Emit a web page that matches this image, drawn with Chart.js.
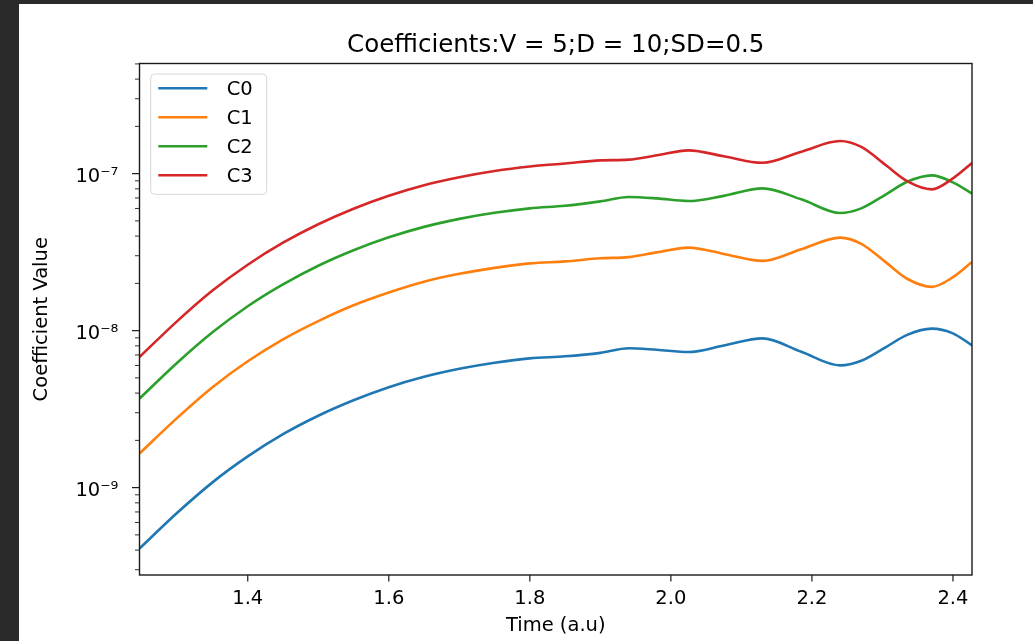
<!DOCTYPE html>
<html>
<head>
<meta charset="utf-8">
<title>Coefficients</title>
<script src="https://cdn.jsdelivr.net/npm/chart.js@4.4.1/dist/chart.umd.min.js"></script>
<style>
html, body { margin: 0; padding: 0; background: #2a2a2a; width: 1033px; height: 641px; overflow: hidden; }
#fig { position: absolute; left: 19px; top: 4px; width: 1014px; height: 637px; background: #fff; }
</style>
</head>
<body>
<div id="fig"><canvas id="myChart"></canvas></div>
<script>
// time samples (a.u)
var time = [1.2465, 1.30, 1.35, 1.40, 1.45, 1.50, 1.55, 1.60, 1.65, 1.70, 1.75, 1.80, 1.85, 1.90,
            1.94, 1.98, 2.025, 2.075, 2.13, 2.185, 2.24, 2.27, 2.305, 2.335, 2.37, 2.40, 2.427];

var c0 = [4.09e-10, 6.91e-10, 1.08e-9, 1.58e-9, 2.19e-9, 2.87e-9, 3.60e-9, 4.36e-9, 5.08e-9, 5.71e-9,
          6.24e-9, 6.66e-9, 6.86e-9, 7.22e-9, 7.72e-9, 7.55e-9, 7.31e-9, 8.04e-9, 8.93e-9, 7.33e-9,
          6.01e-9, 6.43e-9, 7.86e-9, 9.40e-9, 1.03e-8, 9.61e-9, 8.06e-9];
var c1 = [1.65e-9, 2.78e-9, 4.36e-9, 6.38e-9, 8.80e-9, 1.15e-8, 1.45e-8, 1.75e-8, 2.05e-8, 2.30e-8,
          2.51e-8, 2.68e-8, 2.76e-8, 2.89e-8, 2.94e-8, 3.15e-8, 3.38e-8, 3.08e-8, 2.78e-8, 3.30e-8,
          3.91e-8, 3.57e-8, 2.72e-8, 2.14e-8, 1.90e-8, 2.19e-8, 2.74e-8];
var c2 = [3.69e-9, 6.24e-9, 9.75e-9, 1.43e-8, 1.97e-8, 2.59e-8, 3.25e-8, 3.93e-8, 4.58e-8, 5.15e-8,
          5.63e-8, 6.01e-8, 6.24e-8, 6.66e-8, 7.10e-8, 6.96e-8, 6.69e-8, 7.22e-8, 8.06e-8, 6.86e-8,
          5.61e-8, 6.01e-8, 7.38e-8, 8.87e-8, 9.75e-8, 8.80e-8, 7.46e-8];
var c3 = [6.79e-9, 1.15e-8, 1.80e-8, 2.63e-8, 3.63e-8, 4.76e-8, 5.98e-8, 7.23e-8, 8.44e-8, 9.49e-8,
          1.04e-7, 1.11e-7, 1.16e-7, 1.215e-7, 1.228e-7, 1.308e-7, 1.407e-7, 1.29e-7, 1.172e-7, 1.38e-7,
          1.613e-7, 1.48e-7, 1.13e-7, 8.96e-8, 7.94e-8, 9.33e-8, 1.168e-7];

var series_names = ['C0', 'C1', 'C2', 'C3'];
var series_values = [c0, c1, c2, c3];
var series_colors = ['#1f77b4', '#ff7f0e', '#2ca02c', '#d62728'];

var x_ticks = [1.4, 1.6, 1.8, 2.0, 2.2, 2.4];
var x_min = 1.2465, x_max = 2.427;
var y_min = 2.776e-10, y_max = 5.03e-7;
var y_decades = [-10, -9, -8, -7];

var sup = {'-': '\u207B', '0': '\u2070', '1': '\u00B9', '2': '\u00B2', '3': '\u00B3', '4': '\u2074',
           '5': '\u2075', '6': '\u2076', '7': '\u2077', '8': '\u2078', '9': '\u2079'};

function power_label(p) {
	var s = String(p).split('').map(function(ch){ return sup[ch]; }).join('');
	return '10' + s;
}

function is_decade(v) {
	var l = Math.log10(v);
	return Math.abs(l - Math.round(l)) < 1e-6;
}

// 1..9 x 10^n ticks inside the axis range
var y_ticks = [];
for (var d = 0; d < y_decades.length; d++) {
	for (var m = 1; m <= 9; m++) {
		var v = m * Math.pow(10, y_decades[d]);
		if (v >= y_min && v <= y_max) y_ticks.push(v);
	}
}

var datasets = [];
for (var i = 0; i < series_names.length; i++) {
	var pts = [];
	for (var j = 0; j < time.length; j++) {
		pts.push({x: time[j], y: series_values[i][j]});
	}
	datasets.push({
		label: series_names[i],
		data: pts,
		borderColor: series_colors[i],
		backgroundColor: series_colors[i],
		borderWidth: 2.6,
		pointRadius: 0,
		cubicInterpolationMode: 'monotone',
		fill: false,
		order: series_names.length - i
	});
}

// frame + outward tick marks, like the usual matplotlib axes
var axesFrame = {
	id: 'axesFrame',
	afterDatasetsDraw: function(chart) {
		var ctx = chart.ctx, a = chart.chartArea;
		var xs = chart.scales.x, ys = chart.scales.y;
		ctx.save();
		ctx.strokeStyle = '#1a1a1a';
		ys.ticks.forEach(function(t){
			var py = ys.getPixelForValue(t.value);
			var len = t.major ? 7.5 : 4.5;
			ctx.lineWidth = t.major ? 1.2 : 0.9;
			ctx.beginPath();
			ctx.moveTo(a.left - len, py);
			ctx.lineTo(a.left, py);
			ctx.stroke();
		});
		ctx.lineWidth = 1.2;
		xs.ticks.forEach(function(t){
			var px = xs.getPixelForValue(t.value);
			ctx.beginPath();
			ctx.moveTo(px, a.bottom);
			ctx.lineTo(px, a.bottom + 6.5);
			ctx.stroke();
		});
		ctx.lineWidth = 1.4;
		ctx.strokeRect(a.left, a.top, a.right - a.left, a.bottom - a.top);
		ctx.restore();
	}
};

var legendBox = {
	id: 'legendBox',
	afterDraw: function(chart) {
		var ctx = chart.ctx, a = chart.chartArea;
		var bx = a.left + 11.2, by = a.top + 10.5, bw = 116, bh = 120.3;
		ctx.save();
		ctx.beginPath();
		ctx.roundRect(bx, by, bw, bh, 4);
		ctx.fillStyle = 'rgba(255,255,255,0.8)';
		ctx.fill();
		ctx.strokeStyle = '#d6d6d6';
		ctx.lineWidth = 1;
		ctx.stroke();
		ctx.font = '19.5px "DejaVu Sans"';
		ctx.textBaseline = 'middle';
		ctx.textAlign = 'left';
		chart.data.datasets.forEach(function(ds, i){
			var ly = by + 14.3 + i * 29;
			ctx.strokeStyle = ds.borderColor;
			ctx.lineWidth = 2.6;
			ctx.beginPath();
			ctx.moveTo(bx + 7.6, ly);
			ctx.lineTo(bx + 56.6, ly);
			ctx.stroke();
			ctx.fillStyle = '#000';
			ctx.fillText(ds.label, bx + 76, ly + 2);
		});
		ctx.restore();
	}
};

Chart.defaults.font.family = '"DejaVu Sans"';
Chart.defaults.color = '#000';

var ctx = document.getElementById('myChart');
var chart = new Chart(ctx, {
	type: 'line',
	data: { datasets: datasets },
	plugins: [axesFrame, legendBox],
	options: {
		responsive: true,
		maintainAspectRatio: false,
		animation: false,
		events: [],
		layout: { padding: { left: 0, top: 0, right: 61, bottom: 0 } },
		plugins: {
			legend: { display: false },
			tooltip: { enabled: false },
			title: {
				display: true,
				text: 'Coefficients:V = 5;D = 10;SD=0.5',
				fullSize: false,
				font: { size: 24.5, weight: 'normal' },
				color: '#000',
				padding: { top: 26.7, bottom: 3.4 }
			}
		},
		scales: {
			x: {
				type: 'linear',
				min: x_min,
				max: x_max,
				grid: { display: false, drawTicks: false },
				border: { display: false },
				afterBuildTicks: function(scale) {
					scale.ticks = x_ticks.map(function(v){ return {value: v}; });
				},
				afterFit: function(scale) { scale.height = 66; },
				ticks: {
					autoSkip: false,
					maxRotation: 0,
					padding: 12.3,
					font: { size: 19.5 },
					callback: function(value) { return Number(value).toFixed(1); }
				},
				title: {
					display: true,
					text: 'Time (a.u)',
					font: { size: 19.5 },
					padding: { top: 0, bottom: 3.8 }
				}
			},
			y: {
				type: 'logarithmic',
				min: y_min,
				max: y_max,
				grid: { display: false, drawTicks: false },
				border: { display: false },
				afterBuildTicks: function(scale) {
					scale.ticks = y_ticks.map(function(v){ return {value: v, major: is_decade(v)}; });
				},
				afterFit: function(scale) { scale.width = 120.5; },
				ticks: {
					autoSkip: false,
					padding: 21.2,
					labelOffset: 3.5,
					font: { size: 19.5 },
					callback: function(value) {
						if (!is_decade(value)) return '';
						return power_label(Math.round(Math.log10(value)));
					}
				},
				title: {
					display: true,
					text: 'Coefficient Value',
					font: { size: 19.5 },
					padding: { top: 11.6, bottom: 0 }
				}
			}
		}
	}
});
</script>
</body>
</html>
